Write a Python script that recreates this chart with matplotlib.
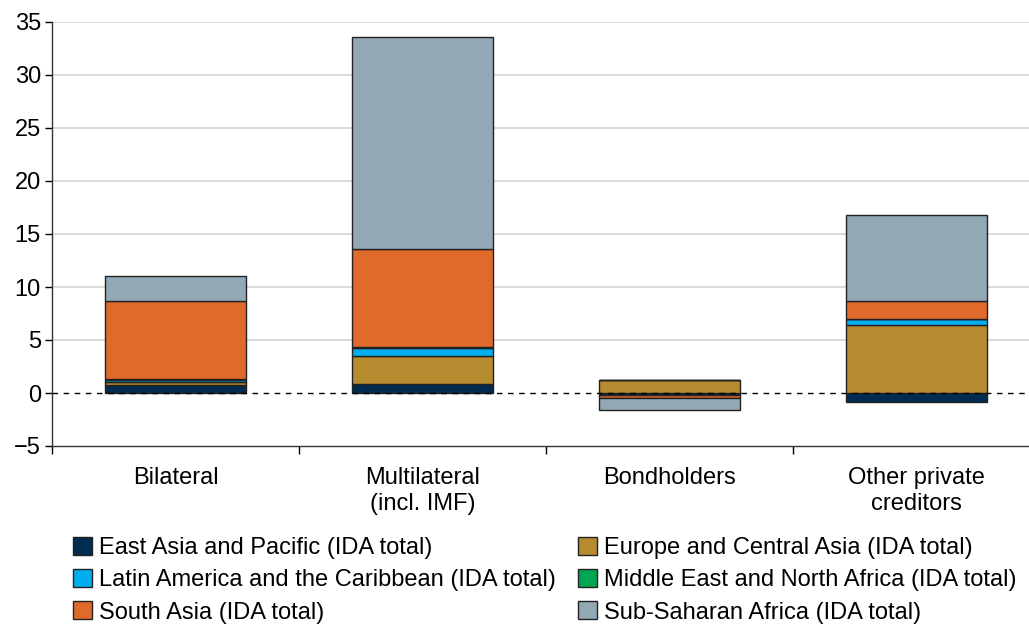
import matplotlib.pyplot as plt
import numpy as np

plt.rcParams['font.family'] = ['Liberation Sans', 'DejaVu Sans']

categories = ['Bilateral', 'Multilateral\n(incl. IMF)', 'Bondholders', 'Other private\ncreditors']

# values by region, one per category
east_asia = [0.8, 0.85, -0.2, -0.85]
europe_ca = [0.25, 2.6, 1.2, 6.4]
latin_am = [0.2, 0.75, 0.03, 0.55]
mena = [0.05, 0.1, 0.0, 0.02]
south_asia = [7.4, 9.25, -0.25, 1.75]
ssa = [2.3, 20.05, -1.15, 8.1]

series = [
    ('East Asia and Pacific (IDA total)', east_asia, '#002c52'),
    ('Europe and Central Asia (IDA total)', europe_ca, '#b78b2f'),
    ('Latin America and the Caribbean (IDA total)', latin_am, '#00aeef'),
    ('Middle East and North Africa (IDA total)', mena, '#00a651'),
    ('South Asia (IDA total)', south_asia, '#e06a2c'),
    ('Sub-Saharan Africa (IDA total)', ssa, '#93a8b5'),
]

fig = plt.figure(figsize=(10.29, 6.26), dpi=100)
ax = fig.add_axes([52 / 1029, 180 / 626, 988 / 1029, 424 / 626])

x = np.arange(len(categories))
pos_base = np.zeros(len(categories))
neg_base = np.zeros(len(categories))
handles = {}
for name, vals, col in series:
    vals = np.array(vals)
    bottom = np.where(vals >= 0, pos_base, neg_base)
    b = ax.bar(x, vals, 0.57, bottom=bottom, color=col, edgecolor='#222222',
               linewidth=1.0, zorder=3, label=name)
    handles[name] = b
    pos_base = pos_base + np.where(vals >= 0, vals, 0)
    neg_base = neg_base + np.where(vals < 0, vals, 0)

ax.set_xlim(-0.5, 3.5)
ax.set_ylim(-5, 35)
ax.set_yticks(range(-5, 40, 5))
ax.set_yticklabels(['\u22125'] + [str(v) for v in range(0, 40, 5)])
for v in range(5, 40, 5):
    ax.axhline(v, color='#d4d4d4', linewidth=1.2, zorder=1)
ax.axhline(0, color='black', linewidth=1.0, linestyle=(0, (4, 4)), zorder=4)

ax.set_xticks(x)
ax.set_xticklabels(categories, linespacing=1.25)
ax.set_xticks(np.arange(-0.5, 4, 1), minor=True)
ax.tick_params(axis='x', which='major', length=0, pad=15, labelsize=17)
ax.tick_params(axis='x', which='minor', length=6, width=1.0, direction='out')
ax.tick_params(axis='y', length=5, width=1.0, labelsize=17, pad=3)
for s in ['top', 'right']:
    ax.spines[s].set_visible(False)
for s in ['left', 'bottom']:
    ax.spines[s].set_linewidth(1.0)
    ax.spines[s].set_color('#333333')

order = [0, 2, 4, 1, 3, 5]
hs = [handles[series[i][0]] for i in order]
ls = [series[i][0] for i in order]
fig.legend(hs, ls, ncol=2, loc='upper left', bbox_to_anchor=(0.0709, 0.142),
           frameon=False, fontsize=17, handlelength=0.8, handleheight=0.8,
           handletextpad=0.3, columnspacing=0.95, labelspacing=0.42,
           borderaxespad=0, borderpad=0)

fig.savefig('out.png', dpi=100)
